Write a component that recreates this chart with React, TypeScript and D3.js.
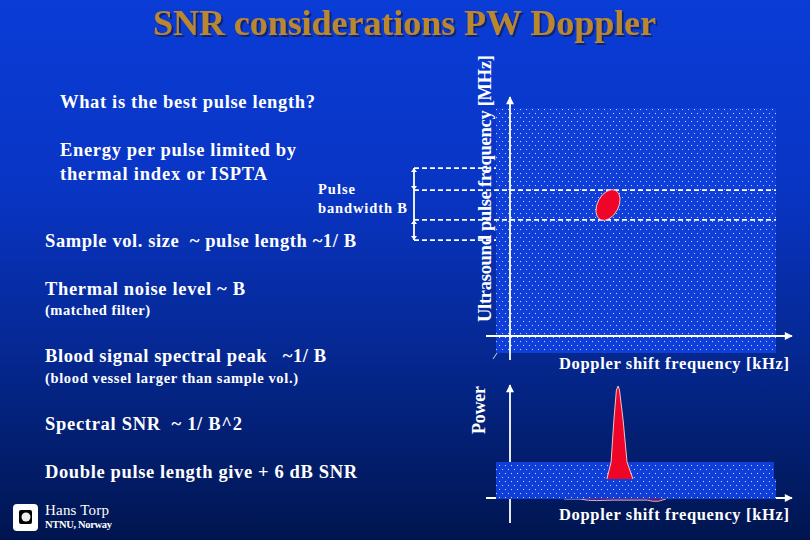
import React from "react";
import * as d3 from "d3";

const titleText = "SNR considerations PW Doppler";
const leftBold = [
  "What is the best pulse length?",
  "Energy per pulse limited by",
  "thermal index or ISPTA",
  "Sample vol. size  ~ pulse length ~1/ B",
  "Thermal noise level ~ B",
  "Blood signal spectral peak   ~1/ B",
  "Spectral SNR  ~ 1/ B^2",
  "Double pulse length give + 6 dB SNR",
];
const leftSmall = ["(matched filter)", "(blood vessel larger than sample vol.)"];
const pulseLabel = ["Pulse", "bandwidth B"];
const authorName = "Hans Torp";
const authorOrg = "NTNU, Norway";
const yAxisLabel = "Ultrasound pulse frequency [MHz]";
const xAxisLabel = "Doppler shift frequency [kHz]";
const powerLabel = "Power";

// band edges on the pulse frequency scale (percent of plot height)
const pulseBandOuter = [46.1, 75.5];
const pulseBandInner = [54.3, 66.5];
const bloodCentre = [40, 60.4];

// spectrum on the lower chart: frequency (percent) / power (percent)
const peakFreq = [39.6, 41.1, 42.1, 43, 43.6, 44.1, 45.4, 46.8, 48.9];
const peakPower = [17.7, 32.7, 69.9, 96.5, 100, 96.5, 69.9, 32.7, 17.7];
const noiseFreq = [24.3, 30, 33, 36, 42, 50, 54, 56, 58, 60.7];
const noisePower = [0, 0, -1.2, -1.4, -1, -1, -1, -2, -2, 0];

const W = 810;
const H = 540;

const topX = d3.scaleLinear().domain([0, 100]).range([496, 776]);
const topY = d3.scaleLinear().domain([0, 100]).range([353, 108]);
const botX = d3.scaleLinear().domain([0, 100]).range([496, 776]);
const botY = d3.scaleLinear().domain([0, 100]).range([499, 386]);

const serif = "'Liberation Serif', 'Times New Roman', serif";

export default function App() {
  const peakPath =
    d3
      .line<number>()
      .x((d) => botX(d))
      .y((_, i) => botY(peakPower[i]))
      .curve(d3.curveLinear)(peakFreq) ?? "";
  const noisePath =
    d3
      .line<number>()
      .x((d) => botX(d))
      .y((_, i) => botY(noisePower[i]))
      .curve(d3.curveLinear)(noiseFreq) ?? "";

  const T = (p: {
    x: number;
    y: number;
    s: number;
    t: string;
    len?: number;
    bold?: boolean;
  }) => (
    <text
      x={p.x}
      y={p.y}
      fontSize={p.s}
      fontWeight={p.bold === false ? 400 : 700}
      fill="#fff"
      textLength={p.len}
      lengthAdjust="spacing"
      style={{ whiteSpace: "pre" }}
    >
      {p.t}
    </text>
  );

  return (
    <svg
      width={W}
      height={H}
      viewBox={`0 0 ${W} ${H}`}
      style={{ position: "absolute", left: 0, top: 0, display: "block" }}
      fontFamily={serif}
    >
      <defs>
        <linearGradient id="bg" x1="0" y1="0" x2="0" y2="1">
          <stop offset="0" stopColor="#0a3cd6" />
          <stop offset="0.35" stopColor="#0935c4" />
          <stop offset="0.65" stopColor="#052892" />
          <stop offset="1" stopColor="#00154f" />
        </linearGradient>
        <pattern id="dots" width="6" height="8" patternUnits="userSpaceOnUse">
          <rect width="6" height="8" fill="#0f3fd8" />
          <rect x="1" y="1" width="1" height="1" fill="#c8d8f8" />
          <rect x="4" y="5" width="1" height="1" fill="#c8d8f8" />
        </pattern>
        <marker id="arrow" viewBox="0 0 10 10" refX="9" refY="5" markerWidth="10" markerHeight="8" orient="auto" markerUnits="userSpaceOnUse">
          <path d="M0,0L10,5L0,10Z" fill="#fff" />
        </marker>
        <filter id="titleShadow" x="-5%" y="-20%" width="110%" height="150%">
          <feDropShadow dx="2" dy="2" stdDeviation="0.6" floodColor="#0a1f60" floodOpacity="0.85" />
        </filter>
      </defs>
      <rect width={W} height={H} fill="url(#bg)" />

      {/* title */}
      <text x={153} y={34.5} fontSize={36} fontWeight={700} fill="#b8872f" textLength={503} lengthAdjust="spacing" filter="url(#titleShadow)">
        {titleText}
      </text>

      {/* left text */}
      <T x={60} y={108} s={18.5} t={leftBold[0]} len={255} />
      <T x={60} y={156} s={18.5} t={leftBold[1]} len={236} />
      <T x={60} y={180} s={18.5} t={leftBold[2]} len={207} />
      <T x={45} y={247} s={18.5} t={leftBold[3]} len={311} />
      <T x={45} y={295} s={18.5} t={leftBold[4]} len={200} />
      <T x={45} y={315} s={14.5} t={leftSmall[0]} len={105} />
      <T x={45} y={362} s={18.5} t={leftBold[5]} len={281} />
      <T x={45} y={383} s={14.5} t={leftSmall[1]} len={253} />
      <T x={45} y={430} s={18.5} t={leftBold[6]} len={197} />
      <T x={45} y={478} s={18.5} t={leftBold[7]} len={312} />
      <T x={318} y={194} s={14.5} t={pulseLabel[0]} len={37} />
      <T x={318} y={213} s={14.5} t={pulseLabel[1]} len={89} />

      {/* top chart */}
      <rect x={topX(0)} y={topY(100)} width={topX(100) - topX(0)} height={topY(0) - topY(100)} fill="url(#dots)" />
      {pulseBandOuter.map((v) => (
        <line key={v} x1={414} x2={topX(0)} y1={topY(v)} y2={topY(v)} stroke="#fff" strokeWidth={1.8} strokeDasharray="5 3" />
      ))}
      {pulseBandInner.map((v) => (
        <line key={v} x1={414} x2={topX(100)} y1={topY(v)} y2={topY(v)} stroke="#fff" strokeWidth={1.8} strokeDasharray="5 3" />
      ))}
      <line x1={414} x2={414} y1={topY(pulseBandOuter[1])} y2={topY(pulseBandOuter[0])} stroke="#fff" strokeWidth={1.8} />
      {[...pulseBandOuter, ...pulseBandInner].map((v) => (
        <path key={v} d={`M${414 - 3},${topY(v) + (v === pulseBandOuter[0] || v === pulseBandInner[1] ? -4 : 4)}L${414 + 3},${topY(v) + (v === pulseBandOuter[0] || v === pulseBandInner[1] ? -4 : 4)}L414,${topY(v)}Z`} fill="#fff" />
      ))}
      <ellipse
        cx={topX(bloodCentre[0])}
        cy={topY(bloodCentre[1])}
        rx={10.5}
        ry={16.5}
        transform={`rotate(28 ${topX(bloodCentre[0])} ${topY(bloodCentre[1])})`}
        fill="#ee0528"
        stroke="#f4d8d8"
        strokeWidth={0.8}
      />
      <line x1={510} x2={510} y1={360} y2={97} stroke="#fff" strokeWidth={1.8} markerEnd="url(#arrow)" />
      <line x1={486} x2={792} y1={336} y2={336} stroke="#fff" strokeWidth={1.8} markerEnd="url(#arrow)" />
      <line x1={493} x2={497} y1={359} y2={353} stroke="#fff" strokeWidth={0.8} />
      <text transform="translate(490.5,322) rotate(-90)" fontSize={18.5} fontWeight={700} fill="#fff" textLength={267} lengthAdjust="spacing">
        {yAxisLabel}
      </text>
      <T x={559} y={369} s={16.5} t={xAxisLabel} len={230} />

      {/* bottom chart */}
      <line x1={510} x2={510} y1={479} y2={385} stroke="#fff" strokeWidth={1.8} markerEnd="url(#arrow)" />
      <path d={noisePath} fill="#8a1040" stroke="#f0dce0" strokeWidth={0.8} />
      <line x1={486} x2={792} y1={498} y2={498} stroke="#fff" strokeWidth={1.8} markerEnd="url(#arrow)" />
      <rect x={botX(0)} y={462} width={278} height={17} fill="url(#dots)" />
      <rect x={botX(0)} y={479} width={280} height={20} fill="url(#dots)" />
      <line x1={510} x2={510} y1={499} y2={523} stroke="#fff" strokeWidth={1.8} />
      <path d={peakPath} fill="#ee0528" stroke="#f4d8d8" strokeWidth={0.9} />
      <text transform="translate(485,434) rotate(-90)" fontSize={18} fontWeight={700} fill="#fff" textLength={48} lengthAdjust="spacing">
        {powerLabel}
      </text>
      <T x={559} y={520} s={16.5} t={xAxisLabel} len={230} />

      {/* logo */}
      <rect x={13} y={504} width={25} height={27} rx={4} fill="#fff" />
      <rect x={19} y={510} width={13} height={14} rx={2} fill="#000" />
      <circle cx={26} cy={517} r={4.5} fill="#eee" />
      <T x={45} y={515} s={15} t={authorName} len={64} bold={false} />
      <T x={45} y={528} s={10.5} t={authorOrg} len={67} />
    </svg>
  );
}
